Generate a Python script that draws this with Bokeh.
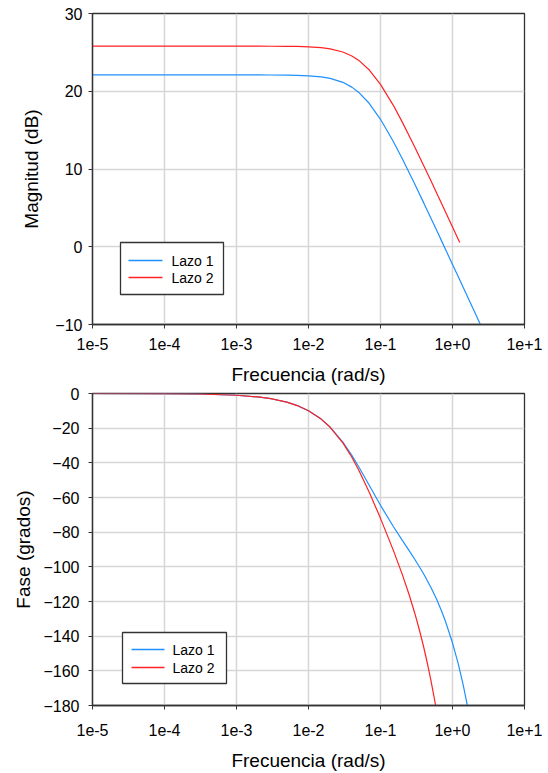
from bokeh.plotting import figure
from bokeh.layouts import column
from bokeh.models import (Range1d, FixedTicker, CustomJSTickFormatter, BoxAnnotation, Label)
from bokeh.embed import file_html
from bokeh.resources import INLINE

# ---------------- data ----------------
x_ticks = [1e-5, 1e-4, 1e-3, 1e-2, 1e-1, 1e0, 1e1]
mag_ticks = [-10, 0, 10, 20, 30]
phase_ticks = [-180, -160, -140, -120, -100, -80, -60, -40, -20, 0]

series_names = ["Lazo 1", "Lazo 2"]

mag1_freq = [1e-5, 1e-4, 3e-4, 1e-3, 2e-3, 3e-3, 5e-3, 7e-3, 0.01, 0.015, 0.02, 0.03,
             0.04, 0.05, 0.07, 0.1, 0.15, 0.2, 0.3, 0.4, 0.5, 0.6, 0.7, 0.8, 1.0, 1.2,
             1.4, 1.6, 2.0, 2.44]
mag1 = [22.10, 22.10, 22.10, 22.10, 22.10, 22.09, 22.07, 22.04, 21.98, 21.84, 21.65, 21.15,
        20.53, 19.85, 18.42, 16.39, 13.57, 11.35, 8.04, 5.61, 3.71, 2.14, 0.82, -0.34, -2.27,
        -3.84, -5.18, -6.34, -8.27, -10.00]

mag2_freq = [1e-5, 1e-4, 3e-4, 1e-3, 2e-3, 3e-3, 5e-3, 7e-3, 0.01, 0.015, 0.02, 0.03,
             0.04, 0.05, 0.07, 0.1, 0.15, 0.2, 0.3, 0.4, 0.5, 0.6, 0.7, 0.8, 1.0, 1.2, 1.26]
mag2 = [25.80, 25.80, 25.80, 25.80, 25.80, 25.79, 25.78, 25.76, 25.71, 25.60, 25.45, 25.05,
        24.54, 23.97, 22.73, 20.88, 18.22, 16.06, 12.81, 10.40, 8.51, 6.95, 5.63, 4.48, 2.55,
        0.97, 0.55]

phase1_freq = [1e-5, 1e-4, 3e-4, 1e-3, 2e-3, 3e-3, 5e-3, 7e-3, 0.01, 0.015, 0.02, 0.03,
               0.04, 0.05, 0.07, 0.1, 0.15, 0.2, 0.25, 0.3, 0.35, 0.4, 0.5, 0.6, 0.7, 0.8,
               1.0, 1.2, 1.4, 1.61]
phase1 = [-0.01, -0.10, -0.30, -1.00, -2.00, -3.01, -5.00, -6.99, -9.94, -14.76, -19.41, -28.05,
          -35.71, -42.38, -53.12, -64.51, -76.59, -84.60, -90.69, -95.77, -100.23, -104.30,
          -111.74, -118.61, -125.16, -131.51, -143.83, -155.86, -167.73, -180.09]

phase2_freq = [1e-5, 1e-4, 3e-4, 1e-3, 2e-3, 3e-3, 5e-3, 7e-3, 0.01, 0.015, 0.02, 0.03,
               0.04, 0.05, 0.07, 0.1, 0.15, 0.2, 0.25, 0.3, 0.35, 0.4, 0.45, 0.5, 0.55, 0.582]
phase2 = [-0.01, -0.10, -0.30, -1.00, -1.99, -2.99, -4.98, -6.96, -9.91, -14.76, -19.49, -28.49,
          -36.76, -44.25, -57.06, -72.03, -90.23, -104.20, -116.12, -126.90, -137.01, -146.68,
          -156.06, -165.23, -174.24, -179.94]

# ---------------- styling ----------------
FONT = "Liberation Sans"
BLUE = "#1E90FF"
RED = "#FF2222"
colors = [BLUE, RED]

fmt = CustomJSTickFormatter(code="""
const e = Math.round(Math.log10(tick));
return "1e" + (e >= 0 ? "+" : "") + e;
""")


def make_fig(height, left, right, top, bottom, y_start, y_end, yticks, ylabel,
             ystand, ylabstand, xstand, xlabstand):
    p = figure(width=548, height=height, x_axis_type="log",
               x_range=Range1d(1e-5, 10), y_range=Range1d(y_start, y_end),
               output_backend="svg", toolbar_location=None, title=None,
               min_border_left=left, min_border_right=right,
               min_border_top=top, min_border_bottom=bottom)
    p.background_fill_color = "white"
    p.border_fill_color = "white"
    p.outline_line_color = "#333333"
    p.outline_line_width = 1.3

    p.xaxis.ticker = FixedTicker(ticks=x_ticks, minor_ticks=[])
    p.xaxis.formatter = fmt
    p.yaxis.ticker = FixedTicker(ticks=yticks, minor_ticks=[])

    for ax in (p.xaxis, p.yaxis):
        ax.axis_line_color = "#333333"
        ax.axis_line_width = 1.3
        ax.major_tick_line_color = "#333333"
        ax.major_tick_out = 4
        ax.major_tick_in = 0
        ax.minor_tick_line_color = None
        ax.major_label_text_font = FONT
        ax.major_label_text_font_size = "16px"
        ax.major_label_text_color = "black"
        ax.axis_label_text_font = FONT
        ax.axis_label_text_font_size = "19px"
        ax.axis_label_text_font_style = "normal"
        ax.axis_label_text_color = "black"

    p.xaxis.major_label_standoff = xstand
    p.xaxis.axis_label_standoff = xlabstand
    p.yaxis.major_label_standoff = ystand
    p.yaxis.axis_label_standoff = ylabstand
    p.xaxis.axis_label = "Frecuencia (rad/s)"
    p.yaxis.axis_label = ylabel

    p.grid.grid_line_color = "#d6d6d6"
    p.grid.grid_line_width = 1.5
    p.xgrid.ticker = FixedTicker(ticks=x_ticks, minor_ticks=[])
    p.ygrid.ticker = FixedTicker(ticks=yticks, minor_ticks=[])
    return p


def screen_box(left, right, bottom, top, **kw):
    return BoxAnnotation(left=left, right=right, bottom=bottom, top=top,
                         left_units="screen", right_units="screen",
                         bottom_units="screen", top_units="screen", **kw)


def draw_legend(p, box, glyph_x, text_x, rows_y):
    """Legend drawn in frame-relative screen units (origin bottom-left)."""
    left, right, bottom, top = box
    p.add_layout(screen_box(left, right, bottom, top,
                            fill_color="white", fill_alpha=1.0,
                            line_color="#333333", line_width=1.3, line_alpha=1.0))
    for name, col, yy in zip(series_names, colors, rows_y):
        # thin filled swatch standing in for the line sample
        p.add_layout(screen_box(glyph_x[0], glyph_x[1], yy - 0.65, yy + 0.65,
                                fill_color=col, fill_alpha=1.0, line_color=None))
        p.add_layout(Label(x=text_x, y=yy, x_units="screen", y_units="screen",
                           text=name, text_font=FONT, text_font_size="14px",
                           text_color="black", text_baseline="middle",
                           text_align="left"))


# top: magnitude
p1 = make_fig(387, 89, 24, 13, 62, -10, 30, mag_ticks, "Magnitud (dB)", 6, 10, 9, 11)
p1.line(mag1_freq, mag1, line_color=BLUE, line_width=1.2)
p1.line(mag2_freq, mag2, line_color=RED, line_width=1.2)
draw_legend(p1, (28, 131, 30, 82), (36, 70), 79, (64, 47))

# bottom: phase
p2 = make_fig(386, 92, 21, 6, 67, -180, 0, phase_ticks, "Fase (grados)", 9, 6, 14, 11)
p2.line(phase1_freq, phase1, line_color=BLUE, line_width=1.2)
p2.line(phase2_freq, phase2, line_color=RED, line_width=1.2)
draw_legend(p2, (30, 134, 22, 73), (39, 72), 80, (56, 38))

layout = column(p1, p2, spacing=0)
open("out.html", "w").write(file_html(layout, INLINE))
